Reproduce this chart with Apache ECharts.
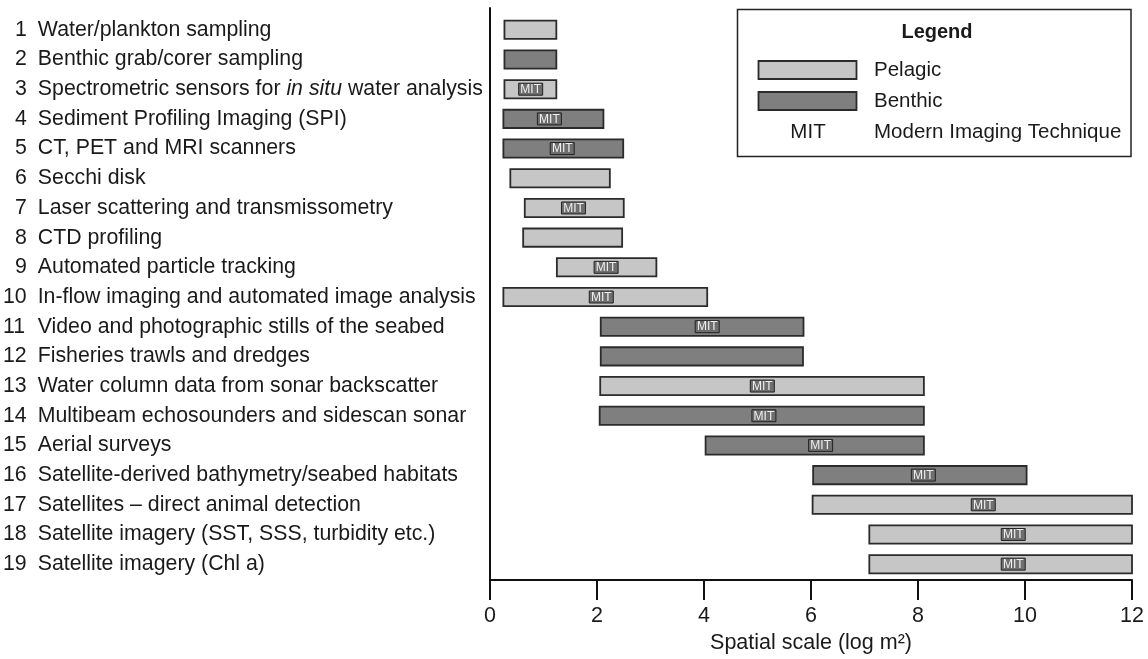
<!DOCTYPE html>
<html>
<head>
<meta charset="utf-8">
<script src="https://cdn.jsdelivr.net/npm/echarts@6/dist/echarts.min.js"></script>
<style>html,body{margin:0;padding:0;background:#fff;}#c{width:1148px;height:659px;}</style>
</head>
<body>
<div id="c"></div>
<script>
// ---- data ----
const labels = [
  'Water/plankton sampling',
  'Benthic grab/corer sampling',
  'Spectrometric sensors for {i|in situ} water analysis',
  'Sediment Profiling Imaging (SPI)',
  'CT, PET and MRI scanners',
  'Secchi disk',
  'Laser scattering and transmissometry',
  'CTD profiling',
  'Automated particle tracking',
  'In-flow imaging and automated image analysis',
  'Video and photographic stills of the seabed',
  'Fisheries trawls and dredges',
  'Water column data from sonar backscatter',
  'Multibeam echosounders and sidescan sonar',
  'Aerial surveys',
  'Satellite-derived bathymetry/seabed habitats',
  'Satellites \u2013 direct animal detection',
  'Satellite imagery (SST, SSS, turbidity etc.)',
  'Satellite imagery (Chl a)'
];
const starts = [0.27, 0.27, 0.27, 0.25, 0.25, 0.38, 0.65, 0.62, 1.25, 0.25, 2.07, 2.07, 2.06, 2.05, 4.03, 6.04, 6.03, 7.09, 7.09];
const ends   = [1.24, 1.24, 1.24, 2.12, 2.49, 2.24, 2.50, 2.47, 3.11, 4.06, 5.86, 5.85, 8.11, 8.11, 8.11, 10.03, 12, 12, 12];
const habitat = ['P','B','P','B','B','P','P','P','P','P','B','B','P','B','B','B','P','P','P'];
const mitPos = [null, null, 0.76, 1.11, 1.35, null, 1.56, null, 2.17, 2.08, 4.06, null, 5.09, 5.12, 6.18, 8.10, 9.22, 9.78, 9.78];
const xTicks = [0, 2, 4, 6, 8, 10, 12];
const xName = 'Spatial scale (log m\u00b2)';
const legendItems = ['Pelagic', 'Benthic'];
const legendMit = ['MIT', 'Modern Imaging Technique'];

// ---- styles ----
const FONT = "'Liberation Sans', Arial, sans-serif";
const TXT = '#1a1a1a';
const FS = 21.5;
const LFS = 21.3;
const colors = { P: '#c6c6c6', B: '#7f7f7f' };
const EDGE = '#2b2b2b';

const seriesData = labels.map((l, i) => [starts[i], ends[i], i, habitat[i], mitPos[i] == null ? -1 : mitPos[i]]);

function numStyle(n) {
  if (n < 10) return 'n1';
  if (n === 11) return 'n3';
  return 'n2';
}

const chart = echarts.init(document.getElementById('c'), null, { renderer: 'canvas' });

const option = {
  backgroundColor: '#fff',
  animation: false,
  grid: [
    { left: 490, right: 16, top: 15, bottom: 80 },
    { left: 490, right: 16, top: 8, bottom: 78 }
  ],
  xAxis: [
    { gridIndex: 0, type: 'value', min: 0, max: 12, show: false },
    {
      gridIndex: 1, type: 'value', min: 0, max: 12, interval: 2,
      axisLine: { show: true, onZero: false, lineStyle: { color: '#111', width: 2 } },
      axisTick: { show: true, inside: false, length: 20, lineStyle: { color: '#111', width: 2 } },
      splitLine: { show: false },
      axisLabel: { margin: 25, fontSize: FS, color: TXT, fontFamily: FONT,
        formatter: v => xTicks.includes(v) ? String(v) : '' },
      name: xName, nameLocation: 'middle', nameGap: 50,
      nameTextStyle: { fontSize: FS, color: TXT, fontFamily: FONT }
    }
  ],
  yAxis: [
    {
      gridIndex: 0, type: 'category', inverse: true,
      data: labels.map((l, i) => String(i + 1)),
      axisLine: { show: false }, axisTick: { show: false }, splitLine: { show: false },
      axisLabel: {
        align: 'left', margin: 487, color: TXT, fontSize: LFS, fontFamily: FONT,
        interval: 0,
        formatter: (v, idx) => '{' + numStyle(idx + 1) + '|' + (idx + 1) + '}{t|' +
          labels[idx].replace(/\{i\|in situ\}/, '}{i|in situ}{t|') + '}',
        rich: {
          n1: { padding: [0, 11, 0, 12], fontSize: LFS, color: TXT, fontFamily: FONT },
          n2: { padding: [0, 11, 0, 0], fontSize: LFS, color: TXT, fontFamily: FONT },
          n3: { padding: [0, 12.6, 0, 0], fontSize: LFS, color: TXT, fontFamily: FONT },
          t: { fontSize: LFS, color: TXT, fontFamily: FONT },
          i: { fontSize: LFS, color: TXT, fontFamily: FONT, fontStyle: 'italic' }
        }
      }
    },
    {
      gridIndex: 1, type: 'value', min: 0, max: 1,
      axisLine: { show: true, onZero: false, lineStyle: { color: '#111', width: 2 } },
      axisTick: { show: false }, axisLabel: { show: false }, splitLine: { show: false }
    }
  ],
  series: [{
    type: 'custom',
    xAxisIndex: 0, yAxisIndex: 0,
    data: seriesData,
    encode: { x: [0, 1], y: 2 },
    renderItem: function (params, api) {
      const s = api.value(0), e = api.value(1), idx = api.value(2);
      const type = seriesData[params.dataIndex][3];
      const m = api.value(4);
      const p0 = api.coord([s, idx]);
      const p1 = api.coord([e, idx]);
      const h = api.size([0, 1])[1] * 0.615;
      const children = [{
        type: 'rect',
        shape: { x: p0[0], y: p0[1] - h / 2, width: p1[0] - p0[0], height: h },
        style: { fill: colors[type], stroke: EDGE, lineWidth: 1.8 }
      }];
      if (m >= 0) {
        const pm = api.coord([m, idx]);
        children.push({
          type: 'rect',
          shape: { x: pm[0] - 12, y: pm[1] - 6, width: 24, height: 12 },
          style: { fill: '#6e6e6e', stroke: '#222', lineWidth: 1 }
        });
        children.push({
          type: 'text',
          style: { x: pm[0], y: pm[1] + 0.5, text: 'MIT', align: 'center', verticalAlign: 'middle',
            fontSize: 12, fontFamily: FONT, fill: '#eeeeee' }
        });
      }
      return { type: 'group', children: children };
    }
  }],
  graphic: [
    { type: 'rect', shape: { x: 737.5, y: 9.5, width: 393.5, height: 147 }, style: { fill: '#fff', stroke: '#222', lineWidth: 1.5 }, z: 10 },
    { type: 'text', x: 937, y: 32, style: { text: 'Legend', fontSize: 20, fontWeight: 'bold', fontFamily: FONT, fill: TXT, align: 'center', verticalAlign: 'middle' }, z: 11 },
    { type: 'rect', shape: { x: 758.5, y: 61, width: 98, height: 18 }, style: { fill: colors.P, stroke: EDGE, lineWidth: 1.8 }, z: 11 },
    { type: 'rect', shape: { x: 758.5, y: 92, width: 98, height: 18 }, style: { fill: colors.B, stroke: EDGE, lineWidth: 1.8 }, z: 11 },
    { type: 'text', x: 874, y: 70, style: { text: legendItems[0], fontSize: 20.5, fontFamily: FONT, fill: TXT, verticalAlign: 'middle' }, z: 11 },
    { type: 'text', x: 874, y: 101, style: { text: legendItems[1], fontSize: 20.5, fontFamily: FONT, fill: TXT, verticalAlign: 'middle' }, z: 11 },
    { type: 'text', x: 808, y: 132, style: { text: legendMit[0], fontSize: 20.5, fontFamily: FONT, fill: TXT, align: 'center', verticalAlign: 'middle' }, z: 11 },
    { type: 'text', x: 874, y: 132, style: { text: legendMit[1], fontSize: 20.5, fontFamily: FONT, fill: TXT, verticalAlign: 'middle' }, z: 11 }
  ]
};
chart.setOption(option);
</script>
</body>
</html>
